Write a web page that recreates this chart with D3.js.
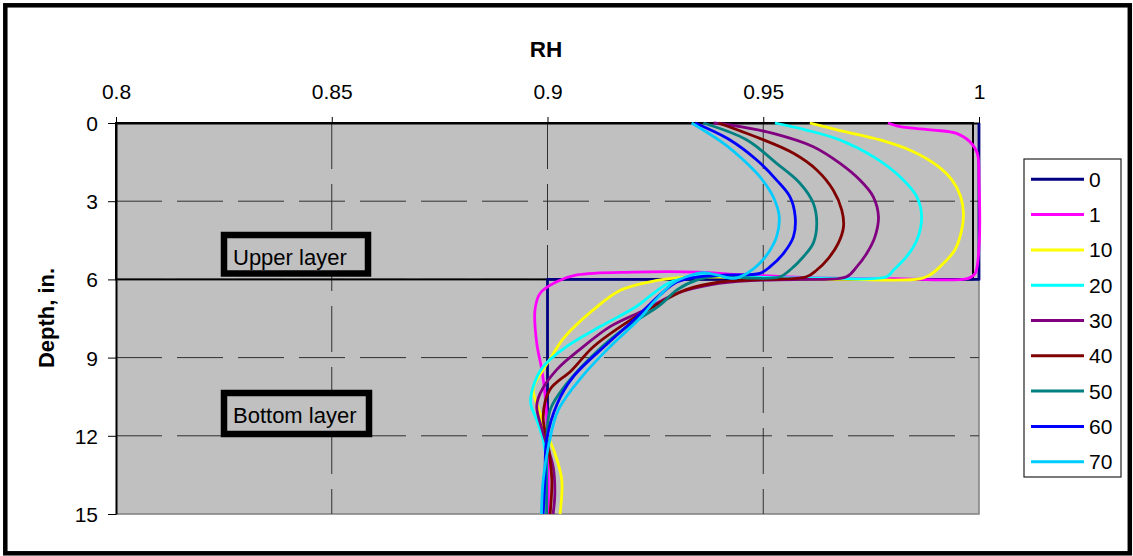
<!DOCTYPE html>
<html><head><meta charset="utf-8">
<script src="https://cdn.jsdelivr.net/npm/d3@7"></script>
<style>body{margin:0;background:#fff;}svg{display:block;font-family:"Liberation Sans",Arial,sans-serif;}</style>
</head><body>
<svg id="chart" width="1133" height="556"></svg>
<script>
// ---- data: [depth (in.), RH] ----
const seriesNames = ["0","1","10","20","30","40","50","60","70"];
const seriesColors = ["#000080","#FF00FF","#FFFF00","#00FFFF","#800080","#800000","#008080","#0000FF","#00CCFF"];
const xTicks = [0.8,0.85,0.9,0.95,1];
const yTicks = [0,3,6,9,12,15];

const s0 = [[0,1.0],[6,1.0],[6,0.9],[15,0.9]];
const s1 = [[0,0.9789],[0.14,0.9817],[0.27,0.9894],[0.4,0.9948],[0.72,0.9979],[1.16,0.9996],[2.19,1.0],[4.75,1.0],[5.77,0.9991],[5.96,0.9975],[5.97,0.98],[5.93,0.96],[5.82,0.945],[5.72,0.935],[5.72,0.92],[5.83,0.9068],[6.09,0.9021],[6.53,0.8983],[7.17,0.8971],[8.44,0.8975],[9.48,0.8987],[10.36,0.8994],[12,0.9],[15,0.9002]];
const s10 = [[0,0.9608],[0.29,0.9678],[0.65,0.9771],[1.1,0.9848],[1.6,0.99],[2.2,0.9938],[2.8,0.9957],[3.46,0.9964],[4.1,0.996],[4.87,0.9944],[5.51,0.991],[5.83,0.9886],[5.98,0.9863],[6.0,0.97],[5.97,0.955],[5.92,0.942],[5.92,0.932],[6.05,0.925],[6.41,0.917],[7.17,0.9106],[8.26,0.9037],[9.0,0.9008],[9.47,0.899],[10.18,0.8967],[11.0,0.898],[11.9,0.8998],[12.67,0.9017],[13.69,0.9033],[15,0.9029]];
const s20 = [[0,0.9527],[0.27,0.96],[0.65,0.9678],[1.29,0.9755],[2.06,0.9817],[2.83,0.9856],[3.59,0.9867],[4.49,0.9856],[5.13,0.9832],[5.64,0.9802],[5.9,0.9786],[5.95,0.965],[5.92,0.95],[5.85,0.94],[5.9,0.933],[6.15,0.928],[6.6,0.924],[7.05,0.9205],[7.81,0.9122],[8.58,0.9044],[9.35,0.899],[10.11,0.8967],[10.75,0.8961],[11.39,0.8975],[12.16,0.899],[13.18,0.8998],[14.2,0.8994],[15,0.899]];
const s30 = [[0,0.9385],[0.15,0.945],[0.4,0.9523],[0.91,0.9616],[1.55,0.9678],[2.19,0.9724],[2.83,0.9755],[3.59,0.9767],[4.36,0.9759],[5.0,0.974],[5.51,0.9717],[5.9,0.9693],[6.0,0.958],[6.05,0.947],[6.2,0.938],[6.53,0.93],[7.17,0.9225],[7.81,0.9145],[8.58,0.9083],[9.47,0.9021],[10.37,0.8983],[10.88,0.8975],[11.9,0.899],[13.18,0.9013],[14.2,0.9017],[15,0.9013]];
const s40 = [[0,0.9396],[0.59,0.9492],[1.16,0.957],[1.8,0.9624],[2.57,0.9662],[3.34,0.9682],[3.98,0.9686],[4.61,0.9674],[5.19,0.9651],[5.64,0.9624],[5.9,0.96],[6.0,0.95],[6.1,0.94],[6.4,0.932],[7.0,0.925],[7.8,0.917],[8.6,0.9105],[9.5,0.9055],[10.24,0.9005],[11.27,0.899],[12.42,0.9002],[13.69,0.901],[15,0.9006]];
const s50 = [[0,0.9361],[0.65,0.9462],[1.55,0.9531],[2.31,0.9585],[3.08,0.9616],[3.85,0.9624],[4.61,0.9616],[5.13,0.9593],[5.64,0.9562],[5.9,0.9539],[5.95,0.947],[5.85,0.94],[6.0,0.935],[6.4,0.93],[7.0,0.926],[7.8,0.9185],[8.6,0.9125],[9.99,0.9045],[11.01,0.9006],[12.42,0.8998],[14.2,0.8998],[15,0.8998]];
const s60 = [[0,0.9342],[0.65,0.9423],[1.42,0.9485],[2.19,0.9531],[2.83,0.9562],[3.59,0.9574],[4.36,0.957],[5.0,0.9547],[5.51,0.9516],[5.77,0.9492],[5.83,0.9415],[5.9,0.935],[6.1,0.93],[6.6,0.926],[7.56,0.92],[8.45,0.914],[9.73,0.906],[10.75,0.9023],[12.16,0.8998],[13.69,0.8994],[15,0.899]];
const s70 = [[0,0.9334],[0.78,0.9408],[1.42,0.9454],[2.06,0.9492],[2.83,0.9523],[3.59,0.9537],[4.36,0.9531],[4.87,0.9516],[5.38,0.9492],[5.77,0.9462],[5.96,0.9431],[5.83,0.9392],[5.74,0.9361],[5.85,0.933],[6.15,0.929],[6.8,0.925],[7.56,0.921],[8.58,0.9145],[9.73,0.908],[11.01,0.9025],[12.42,0.9002],[13.69,0.899],[15,0.8986]];
const allSeries = [s0,s1,s10,s20,s30,s40,s50,s60,s70];
const annotations = ["Upper layer","Bottom layer"];

// ---- layout ----
const svg = d3.select("#chart");
const FONT = '"Liberation Sans", Arial, sans-serif';
const x = d3.scaleLinear().domain([0.8,1.0]).range([116,979]);
const y = d3.scaleLinear().domain([0,15]).range([123,514]);

// outer border
svg.append("rect").attr("x",5.3).attr("y",5.3).attr("width",1124.5).attr("height",548)
  .attr("fill","#fff").attr("stroke","#000").attr("stroke-width",4.5);

// plot area
svg.append("rect").attr("x",x(0.8)).attr("y",y(0)).attr("width",x(1)-x(0.8)).attr("height",y(15)-y(0))
  .attr("fill","#C0C0C0").attr("stroke","none");
svg.append("path").attr("d",`M${x(1)},${y(0)}V${y(15)}H${x(0.8)}`).attr("fill","none").attr("stroke","#808080").attr("stroke-width",1.5);

// gridlines
const grid = svg.append("g");
grid.selectAll(".vg").data([0.85,0.9,0.95]).join("line")
  .attr("x1",d=>x(d)).attr("x2",d=>x(d)).attr("y1",y(0)).attr("y2",y(15))
  .attr("stroke","#303030").attr("stroke-width",1).attr("stroke-dasharray","46,15");
grid.selectAll(".hg").data([3,6,9,12]).join("line")
  .attr("y1",d=>y(d)).attr("y2",d=>y(d)).attr("x1",x(0.8)).attr("x2",x(1))
  .attr("stroke","#303030").attr("stroke-width",1).attr("stroke-dasharray","46,15");

// upper layer boundary box
svg.append("rect").attr("x",x(0.8)).attr("y",y(0)).attr("width",x(1)-6-x(0.8)).attr("height",y(6)-y(0))
  .attr("fill","none").attr("stroke","#000").attr("stroke-width",2);

// axes
const xAxis = svg.append("g").attr("transform",`translate(0,${y(0)})`)
  .call(d3.axisTop(x).tickValues(xTicks).tickSize(6).tickSizeOuter(0).tickFormat(d=>String(d)));
xAxis.select(".domain").attr("stroke","#000").attr("stroke-width",2);
xAxis.selectAll(".tick line").attr("stroke","#000").attr("y2",-6);
xAxis.selectAll(".tick text").attr("y",-24.5).attr("font-size",21).attr("font-family",FONT).attr("fill","#000");

const yAxis = svg.append("g").attr("transform",`translate(${x(0.8)},0)`)
  .call(d3.axisLeft(y).tickValues(yTicks).tickSize(8).tickSizeOuter(0).tickPadding(10));
yAxis.select(".domain").attr("stroke","#000").attr("stroke-width",2);
yAxis.selectAll(".tick line").attr("stroke","#000");
yAxis.selectAll(".tick text").attr("font-size",21).attr("font-family",FONT).attr("fill","#000").attr("dy","0.36em");

// titles
svg.append("text").attr("x",546).attr("y",56.5).attr("text-anchor","middle")
  .attr("font-size",22.5).attr("font-weight","bold").attr("font-family",FONT).text("RH");
svg.append("text").attr("transform","translate(54,318) rotate(-90)").attr("text-anchor","middle")
  .attr("font-size",22).attr("font-weight","bold").attr("font-family",FONT).text("Depth, in.");

// series lines
const line = d3.line().x(d=>x(d[1])).y(d=>y(d[0]));
const smooth = d3.line().x(d=>x(d[1])).y(d=>y(d[0])).curve(d3.curveCatmullRom.alpha(0.5));
svg.append("g").selectAll("path").data(allSeries).join("path")
  .attr("d",(d,i)=> i===0 ? line(d) : smooth(d))
  .attr("fill","none").attr("stroke",(d,i)=>seriesColors[i]).attr("stroke-width",2.8)
  .attr("stroke-linejoin","round");

// annotation boxes
const annPos = [{bx:224,by:235,bw:144,bh:38.5,tx:233,ty:265},{bx:224,by:393,bw:145,bh:41,tx:233,ty:423}];
annotations.forEach((t,i)=>{
  const p = annPos[i];
  svg.append("rect").attr("x",p.bx).attr("y",p.by).attr("width",p.bw).attr("height",p.bh)
    .attr("fill","#C0C0C0").attr("stroke","#000").attr("stroke-width",6.5);
  svg.append("text").attr("x",p.tx).attr("y",p.ty).attr("font-size",22).attr("font-family",FONT).text(t);
});

// legend
const lg = svg.append("g");
lg.append("rect").attr("x",1024).attr("y",159).attr("width",97).attr("height",318)
  .attr("fill","#fff").attr("stroke","#222").attr("stroke-width",1.2);
const items = lg.selectAll(".li").data(seriesNames).join("g")
  .attr("transform",(d,i)=>`translate(0,${179.3+i*35.3})`);
items.append("line").attr("x1",1031).attr("x2",1084).attr("y1",0).attr("y2",0)
  .attr("stroke",(d,i)=>seriesColors[i]).attr("stroke-width",3);
items.append("text").attr("x",1089).attr("y",0).attr("dy","0.36em").attr("font-size",21)
  .attr("font-family",FONT).text(d=>d);
</script>
</body></html>
